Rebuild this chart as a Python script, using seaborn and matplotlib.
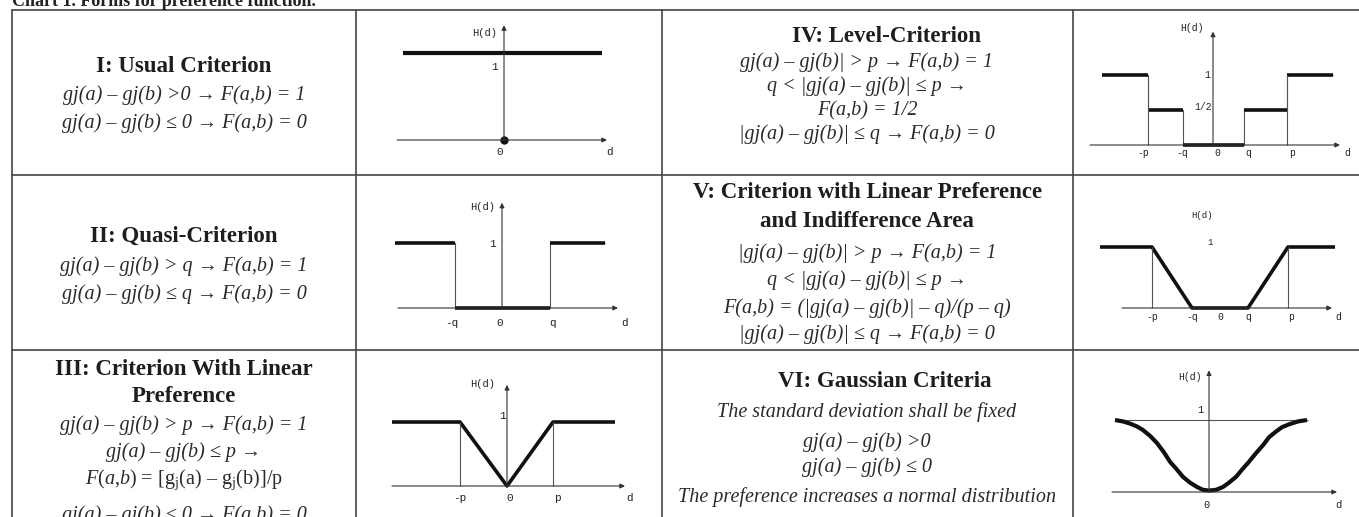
import pandas as pd
import seaborn as sns
import matplotlib.pyplot as plt

sns.set_theme(style="white")
plt.rcParams['font.family'] = ['Liberation Serif', 'DejaVu Serif']
plt.rcParams['mathtext.fontset'] = 'custom'
plt.rcParams['mathtext.rm'] = 'Liberation Serif'
plt.rcParams['mathtext.it'] = 'Liberation Serif:italic'
plt.rcParams['mathtext.bf'] = 'Liberation Serif:bold'

W, H = 1359, 517

# preference function shapes, d in units, H(d) in [0, 1]
usual_d = [-1.01, 0.98]
usual_h = [1, 1]
quasi_d = [-1.07, -0.47, -0.47, 0.48, 0.48, 1.03]
quasi_h = [1, 1, 0, 0, 1, 1]
linear_d = [-1.15, -0.47, 0.0, 0.46, 1.08]
linear_h = [1, 1, 0, 1, 1]
level_d = [-1.11, -0.65, -0.65, -0.30, -0.30, 0.31, 0.31, 0.74, 0.74, 1.20]
level_h = [1, 1, 0.5, 0.5, 0, 0, 0.5, 0.5, 1, 1]
area_d = [-1.19, -0.67, -0.27, 0.29, 0.69, 1.16]
area_h = [1, 1, 0, 0, 1, 1]
gauss_d = [-0.94, -0.86, -0.79, -0.72, -0.66, -0.59, -0.52, -0.45, -0.39, -0.32, -0.26, -0.19,
           -0.12, -0.06, 0.0, 0.07, 0.14, 0.2, 0.27, 0.33, 0.40, 0.47, 0.54, 0.6, 0.67, 0.73, 0.80, 0.89, 0.98]
gauss_h = [1.0, 0.98, 0.95, 0.91, 0.86, 0.78, 0.68, 0.55, 0.42, 0.31, 0.21, 0.13,
           0.07, 0.03, 0.02, 0.03, 0.07, 0.13, 0.21, 0.31, 0.42, 0.54, 0.65, 0.76, 0.84, 0.90, 0.94, 0.98, 1.0]

titles_left = [["I: Usual Criterion"], ["II: Quasi-Criterion"],
               ["III: Criterion With Linear", "Preference"]]
lines_left = [
    ["gj(a) – gj(b) >0 → F(a,b) = 1",
     "gj(a) – gj(b) ≤ 0 → F(a,b) = 0"],
    ["gj(a) – gj(b) > q → F(a,b) = 1",
     "gj(a) – gj(b) ≤ q → F(a,b) = 0"],
    ["gj(a) – gj(b) > p → F(a,b) = 1",
     "gj(a) – gj(b) ≤ p →",
     r"$F(a{,}b)$ = [g$_\mathrm{j}$(a) – g$_\mathrm{j}$(b)]/p",
     "gj(a) – gj(b) ≤ 0 → F(a,b) = 0"],
]
titles_right = [["IV: Level-Criterion"],
                ["V: Criterion with Linear Preference", "and Indifference Area"],
                ["VI: Gaussian Criteria"]]
lines_right = [
    ["gj(a) – gj(b)| > p → F(a,b) = 1",
     "q < |gj(a) – gj(b)| ≤ p →",
     "F(a,b) = 1/2",
     "|gj(a) – gj(b)| ≤ q → F(a,b) = 0"],
    ["|gj(a) – gj(b)| > p → F(a,b) = 1",
     "q < |gj(a) – gj(b)| ≤ p →",
     "F(a,b) = (|gj(a) – gj(b)| – q)/(p – q)",
     "|gj(a) – gj(b)| ≤ q → F(a,b) = 0"],
    ["The standard deviation shall be fixed",
     "gj(a) – gj(b) >0",
     "gj(a) – gj(b) ≤ 0",
     "The preference increases a normal distribution"],
]

fig = plt.figure(figsize=(W / 100, H / 100), dpi=100)
bg = fig.add_axes([0, 0, 1, 1])
bg.set_xlim(0, W)
bg.set_ylim(H, 0)
bg.axis('off')

# table grid
grid = '#444444'
for y in [10, 175, 350]:
    bg.plot([12, W], [y, y], color=grid, lw=1.2)
for x in [12, 356, 662, 1073]:
    bg.plot([x, x], [10, H], color=grid, lw=1.2)

bg.text(12, 6.5, "Chart 1. Forms for preference function.", fontsize=13, fontweight='bold',
        color='#222222', va='baseline', ha='left')

# text baselines (pixels from top)
left_y = [[72, 100, 128], [242, 271, 299], [375, 402, 430, 457, 484, 520]]
right_y = [[42, 67, 91, 115, 139], [198, 227, 258, 285, 313, 339], [387, 417, 447, 472, 502]]
right_title_x = [886, 868, 885]


def cell(x, ys, titles, lines, tx=None):
    for i, t in enumerate(titles):
        bg.text(tx if (tx and i == 0) else x, ys[i], t, fontsize=16.5, fontweight='bold',
                color='#1e1e1e', ha='center', va='baseline')
    for j, s in enumerate(lines):
        style = 'normal' if s.startswith('$') else 'italic'
        bg.text(x, ys[len(titles) + j], s, fontsize=14.5, color='#2a2a2a', ha='center',
                va='baseline', style=style)


for k in range(3):
    cell(184, left_y[k], titles_left[k], lines_left[k])
    cell(867, right_y[k], titles_right[k], lines_right[k], tx=right_title_x[k])

thick = '#111111'
thin = '#555555'
mono = ['Liberation Mono', 'DejaVu Sans Mono']


def panel(ox, oy, sx, sy, xlim=(-1.35, 1.5), ylim=(-0.35, 1.75)):
    left = (ox + xlim[0] * sx) / W
    right = (ox + xlim[1] * sx) / W
    bottom = (H - (oy - ylim[0] * sy)) / H
    top = (H - (oy - ylim[1] * sy)) / H
    ax = fig.add_axes([left, bottom, right - left, top - bottom])
    ax.set_xlim(xlim)
    ax.set_ylim(ylim)
    ax.axis('off')
    return ax


def axes_arrows(ax, x0, x1, ytop):
    ap = dict(arrowstyle='-|>', lw=0.8, color='#333333', mutation_scale=7, shrinkA=0, shrinkB=0)
    ax.annotate('', xy=(x1, 0), xytext=(x0, 0), arrowprops=ap)
    ax.annotate('', xy=(0, ytop), xytext=(0, 0), arrowprops=ap)


def curve(ax, d, h, lw=2.6, color=thick):
    df = pd.DataFrame({'d': d, 'H': h})
    sns.lineplot(data=df, x='d', y='H', ax=ax, sort=False, estimator=None,
                 color=color, lw=lw, solid_capstyle='butt')


def labels(ax, items, y, fs=7.5):
    for x, s in items:
        ax.text(x, y, s, fontsize=fs, family=mono, ha='center', va='center', color='#222222')


# I
ax = panel(504, 140, 100, 87)
axes_arrows(ax, -1.07, 1.03, 1.32)
curve(ax, usual_d, usual_h, lw=3)
ax.plot([0], [0], 'o', color=thick, ms=5)
labels(ax, [(-0.19, 'H(d)')], 1.23, 7.5)
labels(ax, [(-0.09, '1')], 0.84, 8)
labels(ax, [(-0.04, '0'), (1.06, 'd')], -0.14, 8)

# II
ax = panel(502, 308, 100, 65)
axes_arrows(ax, -1.04, 1.16, 1.62)
curve(ax, quasi_d, quasi_h, lw=0.8, color=thin)
curve(ax, quasi_d[:2], quasi_h[:2])
curve(ax, quasi_d[2:4], quasi_h[2:4])
curve(ax, quasi_d[4:], quasi_h[4:])
labels(ax, [(-0.19, 'H(d)')], 1.56, 7.5)
labels(ax, [(-0.09, '1')], 0.98, 8)
labels(ax, [(-0.5, '-q'), (-0.02, '0'), (0.51, 'q'), (1.23, 'd')], -0.23, 8)

# III
ax = panel(507, 486, 100, 64)
axes_arrows(ax, -1.15, 1.18, 1.58)
curve(ax, linear_d, linear_h)
for x in [linear_d[1], linear_d[3]]:
    curve(ax, [x, x], [0, 1], lw=0.8, color=thin)
labels(ax, [(-0.24, 'H(d)')], 1.6, 7.5)
labels(ax, [(-0.04, '1')], 1.09, 8)
labels(ax, [(-0.47, '-p'), (0.03, '0'), (0.5, 'p'), (1.23, 'd')], -0.18, 8)

# IV
ax = panel(1213, 145, 100, 70)
axes_arrows(ax, -1.23, 1.27, 1.62)
curve(ax, level_d, level_h, lw=0.8, color=thin)
for i in range(0, len(level_d), 2):
    curve(ax, level_d[i:i + 2], level_h[i:i + 2])
for x in [level_d[1], level_d[7]]:
    curve(ax, [x, x], [0, 1], lw=0.8, color=thin)
labels(ax, [(-0.21, 'H(d)')], 1.67, 7)
labels(ax, [(-0.06, '1')], 1.0, 7)
labels(ax, [(-0.1, '1/2')], 0.54, 7)
labels(ax, [(-0.7, '-p'), (-0.31, '-q'), (0.04, '0'), (0.35, 'q'), (0.79, 'p'), (1.34, 'd')], -0.11, 7)

# V
ax = panel(1219, 308, 100, 61)
axes_arrows(ax, -0.97, 1.13, 1.9)
curve(ax, area_d, area_h)
for x in [area_d[1], area_d[4]]:
    curve(ax, [x, x], [0, 1], lw=0.8, color=thin)
labels(ax, [(-0.17, 'H(d)')], 1.52, 6.5)
labels(ax, [(-0.09, '1')], 1.08, 6.5)
labels(ax, [(-0.67, '-p'), (-0.27, '-q'), (0.01, '0'), (0.29, 'q'), (0.72, 'p'), (1.19, 'd')], -0.15, 7)

# VI
ax = panel(1209, 492, 100, 72)
axes_arrows(ax, -0.97, 1.28, 1.69)
curve(ax, [-0.94, 0.99], [1, 1], lw=0.8, color=thin)
curve(ax, gauss_d, gauss_h, lw=3)
labels(ax, [(-0.19, 'H(d)')], 1.6, 7)
labels(ax, [(-0.09, '1')], 1.14, 7.5)
labels(ax, [(-0.02, '0'), (1.29, 'd')], -0.18, 7.5)

fig.savefig('out.png', dpi=100)
